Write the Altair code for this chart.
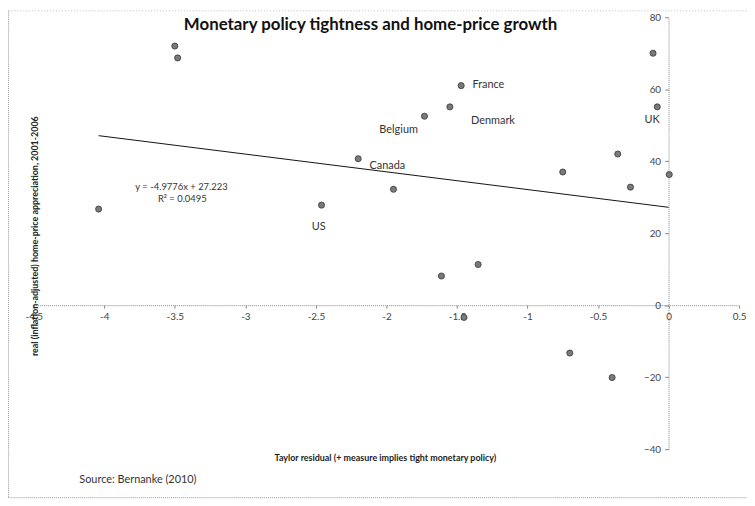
import altair as alt
import pandas as pd

# ---- data ----
residual = [-4.04, -3.50, -3.48, -2.46, -2.20, -1.95, -1.73, -1.55, -1.47, -1.61,
            -1.35, -1.45, -0.75, -0.70, -0.36, -0.40, -0.27, -0.11, -0.08, 0.005]
appreciation = [26.7, 72.0, 68.7, 27.8, 40.7, 32.2, 52.5, 55.1, 61.0, 8.1,
                11.3, -3.4, 37.0, -13.3, 42.0, -20.1, 32.8, 70.0, 55.1, 36.3]

country_names = ["France", "Denmark", "Belgium", "Canada", "US", "UK"]
label_x = [-1.39, -1.40, -2.05, -2.12, -2.53, -0.17]
label_y = [61.3, 51.2, 48.6, 38.8, 21.8, 51.4]

trend_x = [-4.04, 0.0]
trend_y = [47.1, 27.2]

eq_text = ["y = -4.9776x + 27.223", "R\u00b2 = 0.0495"]
eq_x = [-3.78, -3.62]
eq_y = [32.8, 29.4]

x_ticks = [-4.5, -4, -3.5, -3, -2.5, -2, -1.5, -1, -0.5, 0, 0.5]
y_ticks = [-40, -20, 0, 20, 40, 60, 80]

title_text = "Monetary policy tightness and home-price growth"
x_title = "Taylor residual (+ measure implies tight monetary policy)"
y_title = "real (inflation-adjusted)  home-price appreciation, 2001-2006"
source_text = "Source: Bernanke (2010)"

W, H = 712, 436
X_DOM = [-4.5, 0.5]
Y_DOM = [-40, 80]
# y axis sits at x = 0, x axis sits at y = 0
yaxis_off = -(0 - X_DOM[0]) / (X_DOM[1] - X_DOM[0]) * W
xaxis_off = -(0 - Y_DOM[0]) / (Y_DOM[1] - Y_DOM[0]) * H

FONT = "Lato"

def xe(field):
    return alt.X(field, type="quantitative",
                 scale=alt.Scale(domain=X_DOM, nice=False, zero=False),
                 axis=alt.Axis(values=x_ticks, offset=xaxis_off, title=None, grid=False,
                               labelExpr="'' + datum.value", tickSize=3,
                               labelPadding=3, labelFlush=False))

def ye(field):
    return alt.Y(field, type="quantitative",
                 scale=alt.Scale(domain=Y_DOM, nice=False, zero=False),
                 axis=alt.Axis(values=y_ticks, offset=yaxis_off, title=None, grid=False,
                               tickSize=4, labelPadding=4, labelFlush=False))

pts = pd.DataFrame({"x": residual, "y": appreciation})
labs = pd.DataFrame({"x": label_x, "y": label_y, "t": country_names})
trend = pd.DataFrame({"x": trend_x, "y": trend_y})
eqs = pd.DataFrame({"x": eq_x, "y": eq_y, "t": eq_text})

trend_layer = alt.Chart(trend).mark_line(color="#111", strokeWidth=1).encode(
    x=xe("x"), y=ye("y"))

point_layer = alt.Chart(pts).mark_point(
    filled=True, shape="circle", size=38, fill="#7a7a7a", stroke="#333",
    strokeWidth=0.8, opacity=1).encode(x=xe("x"), y=ye("y"))

label_layer = alt.Chart(labs).mark_text(
    align="left", baseline="middle", font=FONT, fontSize=11, color="#333").encode(
    x=xe("x"), y=ye("y"), text="t:N")

eq_layer = alt.Chart(eqs).mark_text(
    align="left", baseline="middle", font=FONT, fontSize=9.5, color="#333").encode(
    x=xe("x"), y=ye("y"), text="t:N")

blank = pd.DataFrame({"a": [0]})

title_layer = alt.Chart(blank).mark_text(
    font=FONT, fontSize=17, fontWeight="bold", color="#111",
    align="center", baseline="middle").encode(
    x=alt.value(340), y=alt.value(8), text=alt.value(title_text))

xtitle_layer = alt.Chart(blank).mark_text(
    font=FONT, fontSize=9, fontWeight="bold", color="#222",
    align="center", baseline="middle").encode(
    x=alt.value(355), y=alt.value(445), text=alt.value(x_title))

ytitle_layer = alt.Chart(blank).mark_text(
    font=FONT, fontSize=9, fontWeight="bold", color="#222", angle=270,
    align="center", baseline="middle").encode(
    x=alt.value(1), y=alt.value(221), text=alt.value(y_title))

source_layer = alt.Chart(blank).mark_text(
    font=FONT, fontSize=11, color="#333", align="left", baseline="middle").encode(
    x=alt.value(46), y=alt.value(467), text=alt.value(source_text))

border_left = alt.Chart(blank).mark_rule(color="#999", strokeDash=[1, 1], strokeWidth=1).encode(
    x=alt.value(-25.5), y=alt.value(-6.5), y2=alt.value(485))
border_top = alt.Chart(blank).mark_rule(color="#bbb", strokeDash=[1, 2], strokeWidth=1).encode(
    x=alt.value(-25.5), x2=alt.value(720), y=alt.value(-6.5))
border_bottom = alt.Chart(blank).mark_rule(color="#999", strokeDash=[1, 1], strokeWidth=1).encode(
    x=alt.value(-25.5), x2=alt.value(720), y=alt.value(485))

chart = alt.layer(
    border_left, border_top, border_bottom,
    trend_layer, point_layer, label_layer, eq_layer,
    title_layer, xtitle_layer, ytitle_layer, source_layer,
).properties(
    width=W, height=H,
    autosize=alt.AutoSizeParams(type="none"),
    padding={"left": 26, "top": 7, "right": 8, "bottom": 51},
    background="white",
).configure_view(stroke=None).configure_axis(
    labelFont=FONT, labelFontSize=10, labelColor="#444",
    domainColor="#888", domainDash=[1, 1], domainWidth=1,
    tickColor="#888", tickWidth=1,
)

chart.save("out.html", embed_options={"renderer": "svg", "actions": False})
